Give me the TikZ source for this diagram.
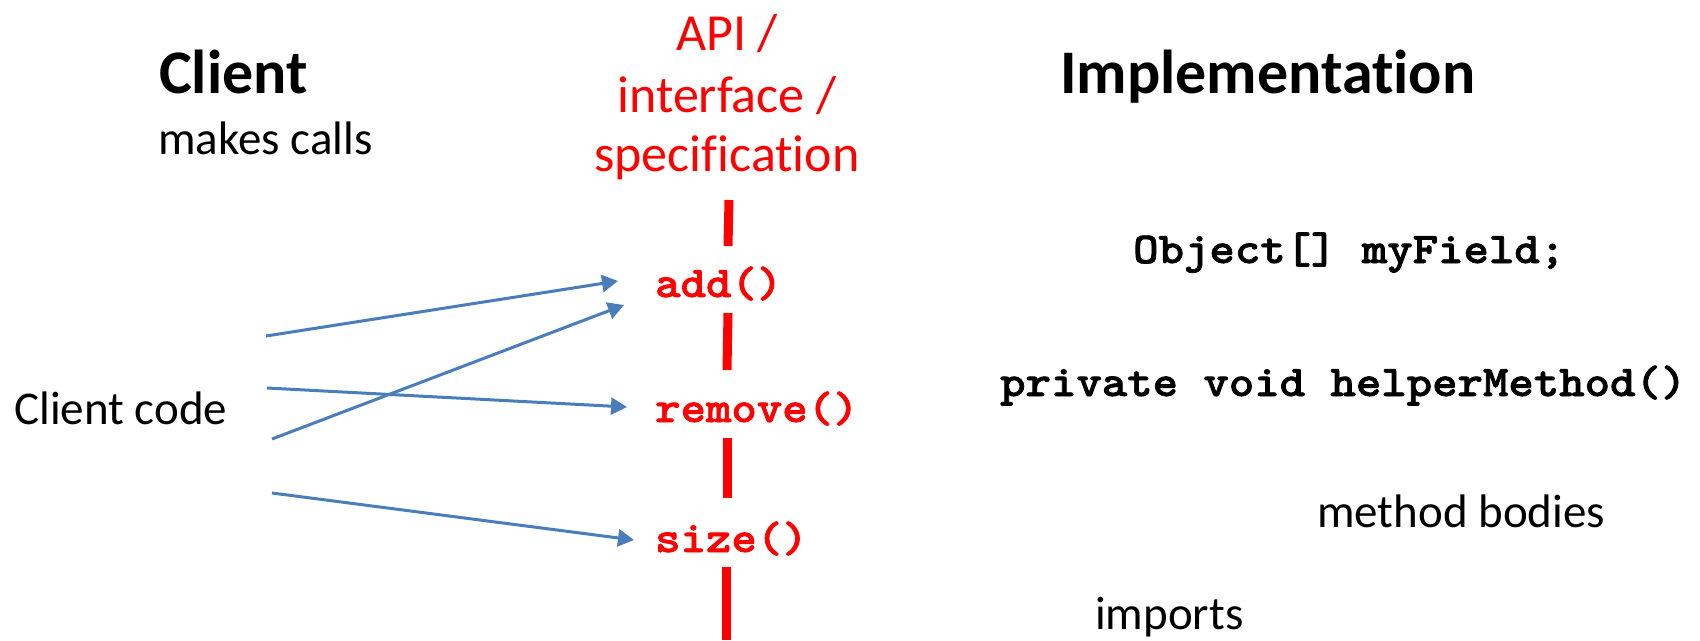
\documentclass[tikz,border=0pt]{standalone}
\usepackage{fontspec}
\usepackage{graphicx}
\setmainfont{Carlito}[Ligatures=NoCommon]
\newfontfamily\codefont{lmmonolt10-bold}[Extension=.otf, FakeBold=1.5]
\usetikzlibrary{arrows.meta}
\definecolor{arrowblue}{HTML}{4A7EBB}
\definecolor{apired}{HTML}{FF0000}
\newcommand{\codetxt}[1]{\scalebox{1.1}[1]{\codefont #1}}
\begin{document}
\begin{tikzpicture}[x=1pt,y=-1pt,
  titletext/.style={font=\fontsize{62}{70}\selectfont\bfseries, inner sep=0pt, anchor=base west},
  plaintext/.style={font=\fontsize{47}{56}\selectfont, inner sep=0pt, anchor=base west},
  apitext/.style={font=\fontsize{52}{60}\selectfont, text=apired, inner sep=0pt, anchor=base},
  apicode/.style={font=\fontsize{44}{50}\selectfont, text=apired, inner sep=0pt, anchor=base west},
  implcode/.style={font=\fontsize{44}{50}\selectfont, inner sep=0pt, anchor=base west},
  call/.style={draw=arrowblue, line width=3pt, -{Triangle[length=16pt,width=17pt]}},
  apiline/.style={draw=apired, line width=9pt}]
\useasboundingbox (0,0) rectangle (1700,640);

% titles
\node[titletext] (client) at (159,93) {Client};
\node[plaintext] (makes) at (158,154) {makes calls};
\node[titletext] (impl) at (1060,93) {Implementation};

% API heading
\node[apitext] (api1) at (727,50) {API /};
\node[apitext] (api2) at (727,112) {interface /};
\node[apitext] (api3) at (727,171) {specification};

% API methods
\node[apicode] (add) at (655,297) {\codetxt{add()}};
\node[apicode] (remove) at (655,422) {\codetxt{remove()}};
\node[apicode] (size) at (655,552) {\codetxt{size()}};

% red API line
\coordinate (l0) at (729,200);
\coordinate (l1) at (728,246);
\coordinate (l2) at (728,313);
\coordinate (l3) at (727,370);
\coordinate (l4) at (727,438);
\coordinate (l5) at (727,498);
\coordinate (l6) at (726,567);
\coordinate (l7) at (726,640);
\draw[apiline] (l0) -- (l1);
\draw[apiline] (l2) -- (l3);
\draw[apiline] (l4) -- (l5);
\draw[apiline] (l6) -- (l7);

% client code
\node[plaintext] (ccode) at (14,424) {Client code};

% calls
\coordinate (a1s) at (266,336);
\coordinate (a1t) at (618,281);
\coordinate (a2s) at (272,439);
\coordinate (a2t) at (624,305);
\coordinate (a3s) at (267,388);
\coordinate (a3t) at (627,407);
\coordinate (a4s) at (272,493);
\coordinate (a4t) at (634,540);
\draw[call] (a1s) -- (a1t);
\draw[call] (a2s) -- (a2t);
\draw[call] (a3s) -- (a3t);
\draw[call] (a4s) -- (a4t);

% implementation
\node[implcode] (field) at (1133,263) {\codetxt{Object[] myField;}};
\node[implcode] (helper) at (1000,396) {\codetxt{private void helperMethod()}};
\node[plaintext] (bodies) at (1317,527) {method bodies};
\node[plaintext] (imports) at (1095,629) {imports};
\end{tikzpicture}
\end{document}
